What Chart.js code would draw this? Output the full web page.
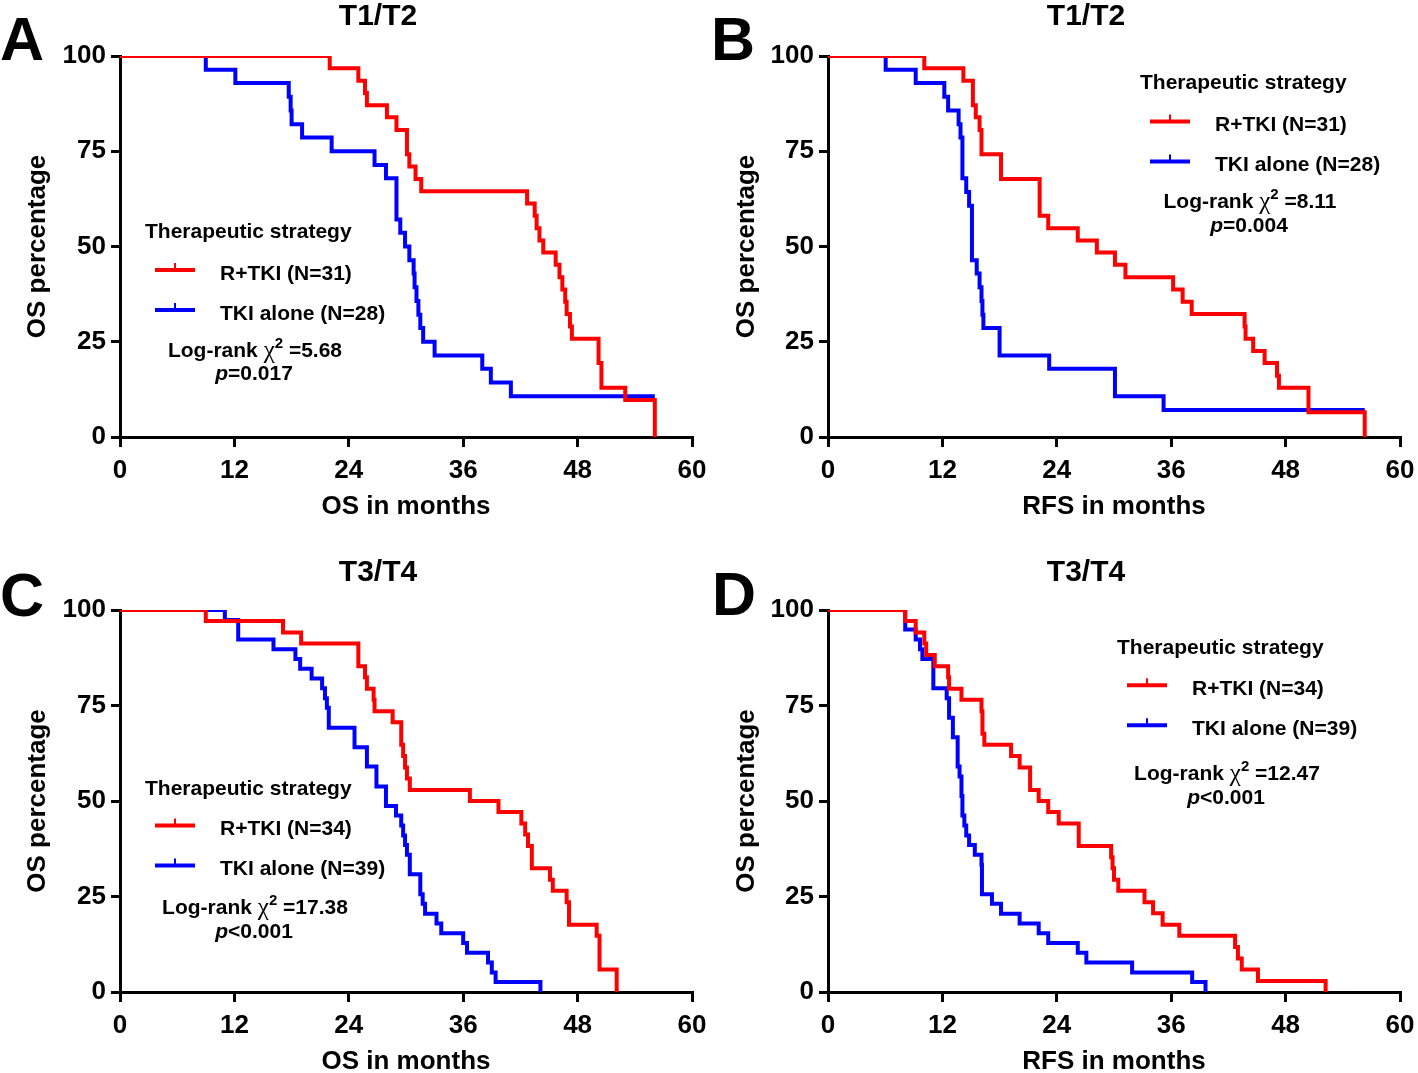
<!DOCTYPE html>
<html>
<head>
<meta charset="utf-8">
<script src="https://cdn.jsdelivr.net/npm/chart.js@4.4.0/dist/chart.umd.min.js"></script>
<style>
  html, body { margin: 0; padding: 0; background: #fff; overflow: hidden; width: 1418px; height: 1073px; }
  canvas { position: absolute; }
</style>
</head>
<body>
<canvas id="chartA" width="709" height="540" style="left:0px;top:0px"></canvas>
<canvas id="chartB" width="709" height="540" style="left:709px;top:0px"></canvas>
<canvas id="chartC" width="709" height="560" style="left:0px;top:533px"></canvas>
<canvas id="chartD" width="709" height="560" style="left:709px;top:533px"></canvas>
<script>
// ticks
var xTicks = [0, 12, 24, 36, 48, 60];
var yTicks = [0, 25, 50, 75, 100];

// A : T1/T2, OS
var aRedMonths = [0, 22.0, 25.0, 25.7, 25.9, 28.0, 29.0, 30.1, 30.35, 31.0, 31.6, 42.7, 43.5, 43.7, 44.0, 44.4, 45.7, 46.1, 46.4, 46.7, 46.85, 47.2, 47.4, 50.2, 50.5, 53.0, 56.1];
var aRedPct    = [100, 96.8, 93.5, 90.3, 87.1, 83.9, 80.6, 74.2, 71.0, 67.7, 64.5, 61.3, 58.1, 54.8, 51.6, 48.4, 45.2, 41.9, 38.7, 35.5, 32.3, 29.0, 25.8, 19.4, 12.9, 9.7, 0];
var aBlueMonths = [0, 9.0, 12.1, 17.7, 17.9, 18.0, 19.1, 22.2, 26.7, 27.9, 29.0, 29.4, 29.9, 30.35, 30.8, 30.9, 31.1, 31.3, 31.5, 31.8, 33.0, 38.0, 38.9, 41.0, 56.1];
var aBluePct    = [100, 96.4, 92.9, 89.3, 85.7, 82.1, 78.6, 75.0, 71.4, 67.9, 57.1, 53.6, 50.0, 46.4, 42.9, 39.3, 35.7, 32.1, 28.6, 25.0, 21.4, 17.9, 14.3, 10.7, 10.7];

// B : T1/T2, RFS
var bRedMonths = [0, 10.1, 14.2, 15.2, 15.5, 15.9, 16.1, 18.15, 22.2, 23.1, 26.2, 28.2, 30.1, 31.2, 36.2, 37.2, 38.15, 43.7, 43.8, 44.6, 45.8, 47.1, 47.3, 50.4, 56.3];
var bRedPct    = [100, 96.8, 93.5, 87.1, 83.9, 80.6, 74.2, 67.7, 58.1, 54.8, 51.6, 48.4, 45.2, 41.9, 38.7, 35.5, 32.3, 29.0, 25.8, 22.6, 19.4, 16.1, 12.9, 6.5, 0];
var bBlueMonths = [0, 6.05, 9.2, 12.2, 12.6, 13.7, 13.9, 14.1, 14.5, 14.8, 15.1, 15.6, 15.9, 16.1, 16.2, 16.3, 18.0, 23.2, 30.1, 35.2, 56.3];
var bBluePct    = [100, 96.4, 92.9, 89.3, 85.7, 82.1, 78.6, 67.9, 64.3, 60.7, 46.4, 42.9, 39.3, 35.7, 32.1, 28.6, 21.4, 17.9, 10.7, 7.1, 7.1];

// C : T3/T4, OS
var cRedMonths = [0, 9.0, 17.1, 19.0, 25.0, 25.7, 25.9, 26.6, 26.7, 28.6, 29.5, 29.7, 29.9, 30.1, 30.4, 36.7, 39.7, 42.1, 42.5, 42.8, 43.2, 45.1, 45.4, 46.85, 47.1, 50.0, 50.3, 52.1];
var cRedPct    = [100, 97.1, 94.1, 91.2, 85.3, 82.4, 79.4, 76.5, 73.5, 70.6, 64.7, 61.8, 58.8, 55.9, 52.9, 50.0, 47.1, 44.1, 41.2, 38.2, 32.4, 29.4, 26.5, 23.5, 17.6, 14.7, 5.9, 0];
var cBlueMonths = [0, 11.0, 12.4, 16.1, 18.4, 18.9, 20.1, 21.2, 21.5, 21.7, 21.9, 24.6, 25.9, 26.9, 27.9, 28.95, 29.5, 29.7, 29.9, 30.1, 30.4, 31.5, 31.75, 32.0, 33.2, 33.7, 36.0, 36.4, 38.6, 39.0, 39.4, 44.1];
var cBluePct    = [100, 97.4, 92.3, 89.7, 87.2, 84.6, 82.1, 79.5, 76.9, 74.4, 69.2, 64.1, 59.0, 53.8, 48.7, 46.2, 43.6, 41.0, 38.5, 35.9, 30.8, 25.6, 23.1, 20.5, 17.9, 15.4, 12.8, 10.3, 7.7, 5.1, 2.6, 0];

// D : T3/T4, RFS
var dRedMonths = [0, 8.1, 9.2, 10.1, 10.3, 11.2, 12.6, 12.7, 14.0, 16.1, 16.2, 16.4, 19.2, 20.1, 21.2, 22.1, 23.1, 24.2, 26.3, 29.7, 29.85, 30.0, 30.45, 33.2, 34.1, 35.1, 36.85, 42.7, 43.0, 43.4, 45.1, 52.2];
var dRedPct    = [100, 97.1, 94.1, 91.2, 88.2, 85.3, 82.4, 79.4, 76.5, 73.5, 67.6, 64.7, 61.8, 58.8, 52.9, 50.0, 47.1, 44.1, 38.2, 35.3, 32.4, 29.4, 26.5, 23.5, 20.6, 17.6, 14.7, 11.8, 8.8, 5.9, 2.9, 0];
var dBlueMonths = [0, 8.1, 9.2, 9.65, 9.9, 11.05, 12.45, 12.7, 13.1, 13.6, 13.8, 14.0, 14.1, 14.3, 14.5, 14.8, 15.4, 16.1, 16.15, 17.2, 18.15, 20.1, 22.1, 23.1, 26.2, 27.1, 31.9, 38.2, 39.6];
var dBluePct    = [100, 94.9, 92.3, 89.7, 87.2, 79.5, 76.9, 71.8, 66.7, 59.0, 56.4, 51.3, 46.2, 43.6, 41.0, 38.5, 35.9, 33.3, 25.6, 23.1, 20.5, 17.9, 15.4, 12.8, 10.3, 7.7, 5.1, 2.6, 0];

var FONT = "'Liberation Sans', Arial, Helvetica, sans-serif";
Chart.defaults.font.family = FONT;
Chart.defaults.color = '#000';

function pts(t, s) {
  return t.map(function (v, i) { return { x: v, y: s[i] }; });
}

// draws panel letter, title, legend and log-rank text
var kmDecor = {
  id: 'kmDecor',
  afterDraw: function (chart, args, o) {
    var ctx = chart.ctx;
    ctx.save();
    ctx.fillStyle = '#000';
    ctx.textBaseline = 'alphabetic';

    ctx.textAlign = 'left';
    ctx.font = 'bold 61px ' + FONT;
    ctx.fillText(o.letter, o.letterX, o.letterY);

    ctx.textAlign = 'center';
    ctx.font = 'bold 30px ' + FONT;
    ctx.fillText(o.title, o.titleX, o.titleY);

    var x = o.legendX, y = o.legendY;
    ctx.textAlign = 'left';
    ctx.font = 'bold 21px ' + FONT;
    ctx.fillText('Therapeutic strategy', x, y);
    o.labels.forEach(function (lab, i) {
      var ly = y + o.lineDy + i * 40;
      ctx.strokeStyle = lab.color;
      ctx.lineWidth = 4;
      ctx.beginPath();
      ctx.moveTo(x + 10, ly); ctx.lineTo(x + 50, ly);
      ctx.stroke();
      ctx.lineWidth = 2;
      ctx.beginPath();
      ctx.moveTo(x + 30, ly); ctx.lineTo(x + 30, ly - 7);
      ctx.stroke();
      ctx.fillText(lab.text, x + 75, ly + 9.5);
    });

    // Log-rank line, built from pieces so chi and superscript get their own fonts
    var parts = [
      { t: 'Log-rank ', f: 'bold 21px ' + FONT, dy: 0 },
      { t: '\u03c7', f: '25px "Liberation Serif", "DejaVu Serif", serif', dy: 1 },
      { t: '2', f: 'bold 15px ' + FONT, dy: -9 },
      { t: ' ' + o.chi, f: 'bold 21px ' + FONT, dy: 0 }
    ];
    drawParts(ctx, parts, x + 110, y + o.statDy);
    var pparts = [
      { t: 'p', f: 'italic bold 21px ' + FONT, dy: 0 },
      { t: o.p, f: 'bold 21px ' + FONT, dy: 0 }
    ];
    drawParts(ctx, pparts, x + 109, y + o.statDy + 23.5);
    ctx.restore();
  }
};

function drawParts(ctx, parts, cx, by) {
  var total = 0;
  parts.forEach(function (p) { ctx.font = p.f; p.w = ctx.measureText(p.t).width; total += p.w; });
  var px = cx - total / 2;
  ctx.textAlign = 'left';
  parts.forEach(function (p) {
    ctx.font = p.f;
    ctx.fillText(p.t, px, by + p.dy);
    px += p.w;
  });
}

function makeChart(id, p) {
  var ctx = document.getElementById(id).getContext('2d');
  return new Chart(ctx, {
    type: 'line',
    data: {
      datasets: [{
        label: p.labels[0].text,
        data: pts(p.redT, p.redS),
        borderColor: '#ff0000',
        borderWidth: 4,
        pointRadius: 0,
        stepped: 'before',
        fill: false,
        clip: { left: 3, right: 3, top: 0, bottom: 2 }
      }, {
        label: p.labels[1].text,
        data: pts(p.blueT, p.blueS),
        borderColor: '#0000ff',
        borderWidth: 4,
        pointRadius: 0,
        stepped: 'before',
        fill: false,
        clip: { left: 3, right: 3, top: 0, bottom: 2 }
      }]
    },
    options: {
      responsive: false,
      animation: false,
      layout: { padding: { left: 0, top: p.top, right: p.right, bottom: 0 } },
      plugins: {
        legend: { display: false },
        tooltip: { enabled: false },
        kmDecor: p
      },
      scales: {
        x: {
          type: 'linear', min: 0, max: 60,
          afterBuildTicks: function (s) { s.ticks = xTicks.map(function (v) { return { value: v }; }); },
          afterFit: function (s) { s.height = p.xBox; s.paddingLeft = 0; s.paddingRight = 0; },
          ticks: { font: { size: 26, weight: 'bold' }, color: '#000', padding: 8, maxRotation: 0, autoSkip: false },
          grid: { drawOnChartArea: false, drawTicks: true, tickLength: 10, lineWidth: 3, color: '#000' },
          border: { display: true, width: 3, color: '#000' },
          title: { display: true, text: p.xTitle, color: '#000', font: { size: 26, weight: 'bold' }, padding: { top: 0, bottom: p.xTitlePad } }
        },
        y: {
          type: 'linear', min: 0, max: 100,
          afterBuildTicks: function (s) { s.ticks = yTicks.map(function (v) { return { value: v }; }); },
          afterFit: function (s) { s.width = p.left; s.paddingTop = 0; s.paddingBottom = 0; },
          ticks: { font: { size: 26, weight: 'bold' }, color: '#000', padding: 5, autoSkip: false },
          grid: { drawOnChartArea: false, drawTicks: true, tickLength: 9, lineWidth: 3, color: '#000' },
          border: { display: true, width: 3, color: '#000' },
          title: { display: true, text: 'OS percentage', color: '#000', font: { size: 26, weight: 'bold' }, padding: { top: 22, bottom: 0 } }
        }
      }
    },
    plugins: [kmDecor]
  });
}

makeChart('chartA', {
  redT: aRedMonths, redS: aRedPct, blueT: aBlueMonths, blueS: aBluePct,
  left: 120, top: 56, right: 17, xBox: 103, xTitle: 'OS in months', xTitlePad: 18,
  letter: 'A', letterX: 0, letterY: 60, title: 'T1/T2', titleX: 378, titleY: 25,
  legendX: 145, legendY: 237.5, lineDy: 32.5, statDy: 119,
  labels: [{ text: 'R+TKI (N=31)', color: '#ff0000' }, { text: 'TKI alone (N=28)', color: '#0000ff' }],
  chi: '=5.68', p: '=0.017'
});
makeChart('chartB', {
  redT: bRedMonths, redS: bRedPct, blueT: bBlueMonths, blueS: bBluePct,
  left: 119, top: 56, right: 18, xBox: 103, xTitle: 'RFS in months', xTitlePad: 18,
  letter: 'B', letterX: 2, letterY: 60, title: 'T1/T2', titleX: 377, titleY: 25,
  legendX: 431, legendY: 88.5, lineDy: 33, statDy: 119.5,
  labels: [{ text: 'R+TKI (N=31)', color: '#ff0000' }, { text: 'TKI alone (N=28)', color: '#0000ff' }],
  chi: '=8.11', p: '=0.004'
});
makeChart('chartC', {
  redT: cRedMonths, redS: cRedPct, blueT: cBlueMonths, blueS: cBluePct,
  left: 120, top: 77, right: 17, xBox: 101, xTitle: 'OS in months', xTitlePad: 16,
  letter: 'C', letterX: 0, letterY: 83, title: 'T3/T4', titleX: 378, titleY: 48,
  legendX: 145, legendY: 262, lineDy: 30.5, statDy: 119.3,
  labels: [{ text: 'R+TKI (N=34)', color: '#ff0000' }, { text: 'TKI alone (N=39)', color: '#0000ff' }],
  chi: '=17.38', p: '<0.001'
});
makeChart('chartD', {
  redT: dRedMonths, redS: dRedPct, blueT: dBlueMonths, blueS: dBluePct,
  left: 119, top: 77, right: 18, xBox: 101, xTitle: 'RFS in months', xTitlePad: 16,
  letter: 'D', letterX: 3, letterY: 82, title: 'T3/T4', titleX: 377, titleY: 48,
  legendX: 408, legendY: 121.3, lineDy: 31, statDy: 125.7,
  labels: [{ text: 'R+TKI (N=34)', color: '#ff0000' }, { text: 'TKI alone (N=39)', color: '#0000ff' }],
  chi: '=12.47', p: '<0.001'
});
</script>
</body>
</html>
